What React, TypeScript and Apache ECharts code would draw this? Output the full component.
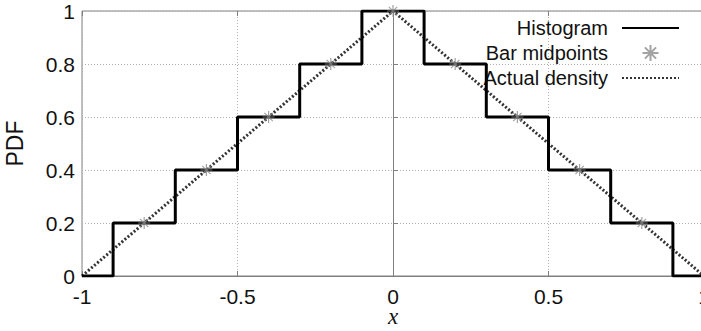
import React, { useEffect, useRef } from "react";
import * as echarts from "echarts";

// Histogram bin edges (left edge of each step) and step heights
const histEdges = [-1, -0.9, -0.7, -0.5, -0.3, -0.1, 0.1, 0.3, 0.5, 0.7, 0.9, 1];
const histHeights = [0, 0.2, 0.4, 0.6, 0.8, 1, 0.8, 0.6, 0.4, 0.2, 0, 0];

// Bar midpoints
const midX = [-0.8, -0.6, -0.4, -0.2, 0, 0.2, 0.4, 0.6, 0.8];
const midY = [0.2, 0.4, 0.6, 0.8, 1, 0.8, 0.6, 0.4, 0.2];

// Actual density (triangular)
const densX = [-1, 0, 1];
const densY = [0, 1, 0];

const FONT = "'Liberation Sans', Arial, Helvetica, sans-serif";
const STAR = "path://M0,5L10,5M5,0L5,10M1.5,1.5L8.5,8.5M8.5,1.5L1.5,8.5";

export default function App() {
  const ref = useRef<HTMLDivElement>(null);
  useEffect(() => {
    if (!ref.current) return;
    const chart = echarts.init(ref.current, undefined, { renderer: "svg" });
    const axisGray = "#808080";
    const hiddenSymbol = { color: "transparent", borderWidth: 0, opacity: 0 };
    chart.setOption({
      animation: false,
      backgroundColor: "#ffffff",
      textStyle: { fontFamily: FONT },
      grid: {
        left: 82,
        top: 11,
        width: 622,
        height: 265,
        outerBoundsMode: "none",
        containLabel: false,
        show: true,
        borderColor: axisGray,
        borderWidth: 1,
        backgroundColor: "transparent",
      },
      legend: {
        orient: "vertical",
        right: 16,
        top: 13,
        align: "right",
        itemWidth: 57,
        itemHeight: 16,
        itemGap: 5,
        textStyle: {
          fontFamily: FONT,
          fontSize: 20,
          color: "#111",
          lineHeight: 16,
          padding: [0, 9, 0, 0],
        },
        data: [
          { name: "Histogram", itemStyle: hiddenSymbol },
          { name: "Bar midpoints" },
          { name: "Actual density", itemStyle: hiddenSymbol },
        ],
      },
      xAxis: [
        {
          type: "value",
          min: -1,
          max: 1,
          interval: 0.5,
          name: "x",
          nameLocation: "middle",
          nameGap: 32,
          nameMoveOverlap: false,
          nameTextStyle: {
            fontFamily: "'Liberation Serif', 'Times New Roman', serif",
            fontStyle: "italic",
            fontSize: 23,
            lineHeight: 16,
            color: "#111",
          },
          axisLine: { show: true, lineStyle: { color: axisGray, width: 1 } },
          axisTick: { show: true, inside: true, length: 5, lineStyle: { color: axisGray } },
          axisLabel: { fontFamily: FONT, fontSize: 21, lineHeight: 20, color: "#111", margin: 10 },
          splitLine: { show: true, lineStyle: { color: "#b0b0b0", type: [1, 2], width: 1 } },
        },
        {
          type: "value",
          position: "top",
          min: -1,
          max: 1,
          interval: 0.5,
          axisLine: { show: false },
          axisTick: { show: true, inside: true, length: 5, lineStyle: { color: axisGray } },
          axisLabel: { show: false },
          splitLine: { show: false },
        },
      ],
      yAxis: {
        type: "value",
        min: 0,
        max: 1,
        interval: 0.2,
        name: "PDF",
        nameLocation: "middle",
        nameRotate: 90,
        nameGap: 56,
        nameMoveOverlap: false,
        nameTextStyle: { fontFamily: FONT, fontSize: 23, color: "#111" },
        axisLine: { show: true, lineStyle: { color: axisGray, width: 1 } },
        axisTick: { show: true, inside: true, length: 5, lineStyle: { color: axisGray } },
        axisLabel: { fontFamily: FONT, fontSize: 21, color: "#111", margin: 7 },
        splitLine: { show: true, lineStyle: { color: "#b0b0b0", type: [1, 2], width: 1 } },
      },
      series: [
        {
          name: "Histogram",
          type: "line",
          step: "end",
          symbol: "none",
          data: histEdges.map((x, i) => [x, histHeights[i]]),
          lineStyle: { color: "#000", width: 3 },
          itemStyle: { color: "#000" },
          z: 4,
        },
        {
          name: "Bar midpoints",
          type: "scatter",
          symbol: STAR,
          symbolSize: 12,
          data: midX.map((x, i) => [x, midY[i]]),
          itemStyle: { color: "transparent", borderColor: "#8c8c8c", borderWidth: 1.2 },
          z: 5,
        },
        {
          name: "Actual density",
          type: "line",
          symbol: "none",
          data: densX.map((x, i) => [x, densY[i]]),
          lineStyle: { color: "#333", width: 3, type: [2, 2], cap: "butt" },
          itemStyle: { color: "#333" },
          z: 3,
        },
      ],
    });
    return () => chart.dispose();
  }, []);
  return <div ref={ref} style={{ width: 701, height: 331, position: "absolute", left: 0, top: 0 }} />;
}
